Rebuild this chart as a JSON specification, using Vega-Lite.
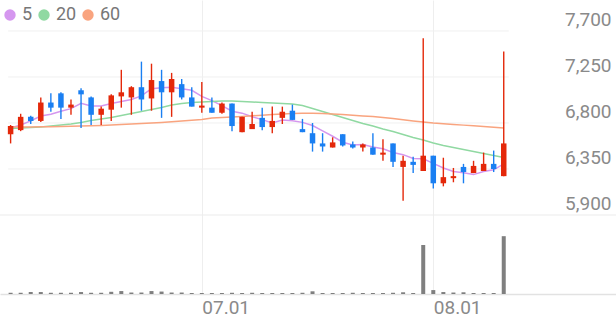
{
  "$schema": "https://vega.github.io/schema/vega-lite/v6.json",
  "width": 616,
  "height": 294,
  "autosize": {"type": "none"},
  "padding": {"left": 0, "top": 0, "right": 0, "bottom": 27},
  "background": "white",
  "config": {"view": {"stroke": null}, "font": "Roboto"},
  "data": {"values": [
    {"i":0,"date":"2024-06-03","o":6690,"h":6780,"l":6600,"c":6770,"v":25000,"ma5":6751,"ma20":6746,"ma60":6761},
    {"i":1,"date":"2024-06-04","o":6730,"h":6890,"l":6720,"c":6860,"v":25000,"ma5":6780,"ma20":6751,"ma60":6761},
    {"i":2,"date":"2024-06-05","o":6860,"h":6870,"l":6790,"c":6820,"v":40000,"ma5":6820,"ma20":6756,"ma60":6761},
    {"i":3,"date":"2024-06-07","o":6820,"h":7050,"l":6810,"c":7000,"v":40000,"ma5":6868,"ma20":6761,"ma60":6763},
    {"i":4,"date":"2024-06-10","o":7000,"h":7090,"l":6910,"c":6950,"v":25000,"ma5":6885,"ma20":6771,"ma60":6764},
    {"i":5,"date":"2024-06-11","o":7090,"h":7100,"l":6840,"c":6950,"v":25000,"ma5":6914,"ma20":6780,"ma60":6766},
    {"i":6,"date":"2024-06-12","o":6950,"h":7030,"l":6880,"c":6980,"v":25000,"ma5":6940,"ma20":6790,"ma60":6768},
    {"i":7,"date":"2024-06-13","o":7120,"h":7140,"l":6750,"c":7080,"v":40000,"ma5":6992,"ma20":6805,"ma60":6771},
    {"i":8,"date":"2024-06-14","o":7050,"h":7060,"l":6780,"c":6880,"v":25000,"ma5":6966,"ma20":6824,"ma60":6773},
    {"i":9,"date":"2024-06-17","o":6880,"h":6960,"l":6780,"c":6940,"v":25000,"ma5":6966,"ma20":6839,"ma60":6776},
    {"i":10,"date":"2024-06-18","o":6930,"h":7080,"l":6820,"c":7070,"v":45000,"ma5":6990,"ma20":6854,"ma60":6780},
    {"i":11,"date":"2024-06-19","o":7060,"h":7320,"l":6950,"c":7100,"v":60000,"ma5":7010,"ma20":6873,"ma60":6785},
    {"i":12,"date":"2024-06-20","o":7050,"h":7160,"l":6880,"c":7150,"v":30000,"ma5":7030,"ma20":6893,"ma60":6790},
    {"i":13,"date":"2024-06-21","o":7150,"h":7400,"l":6920,"c":7030,"v":30000,"ma5":7065,"ma20":6912,"ma60":6795},
    {"i":14,"date":"2024-06-24","o":7040,"h":7380,"l":6920,"c":7220,"v":60000,"ma5":7135,"ma20":6932,"ma60":6800},
    {"i":15,"date":"2024-06-25","o":7210,"h":7320,"l":6850,"c":7100,"v":50000,"ma5":7145,"ma20":6952,"ma60":6805},
    {"i":16,"date":"2024-06-26","o":7100,"h":7290,"l":6860,"c":7230,"v":30000,"ma5":7150,"ma20":6976,"ma60":6812},
    {"i":17,"date":"2024-06-27","o":7180,"h":7230,"l":7030,"c":7050,"v":30000,"ma5":7135,"ma20":6991,"ma60":6820},
    {"i":18,"date":"2024-06-28","o":7050,"h":7150,"l":6960,"c":6960,"v":20000,"ma5":7120,"ma20":7000,"ma60":6826},
    {"i":19,"date":"2024-07-01","o":6950,"h":7200,"l":6900,"c":6970,"v":20000,"ma5":7060,"ma20":7005,"ma60":6834},
    {"i":20,"date":"2024-07-02","o":6950,"h":7050,"l":6900,"c":6900,"v":20000,"ma5":7019,"ma20":7010,"ma60":6849},
    {"i":21,"date":"2024-07-03","o":6900,"h":7000,"l":6890,"c":6990,"v":20000,"ma5":6970,"ma20":7015,"ma60":6854},
    {"i":22,"date":"2024-07-04","o":6990,"h":6990,"l":6720,"c":6770,"v":25000,"ma5":6915,"ma20":7015,"ma60":6859},
    {"i":23,"date":"2024-07-05","o":6710,"h":6860,"l":6710,"c":6860,"v":20000,"ma5":6896,"ma20":7010,"ma60":6864},
    {"i":24,"date":"2024-07-08","o":6740,"h":6910,"l":6740,"c":6790,"v":25000,"ma5":6861,"ma20":7005,"ma60":6870},
    {"i":25,"date":"2024-07-09","o":6850,"h":6950,"l":6730,"c":6760,"v":20000,"ma5":6833,"ma20":7000,"ma60":6876},
    {"i":26,"date":"2024-07-10","o":6760,"h":6960,"l":6700,"c":6820,"v":20000,"ma5":6800,"ma20":6996,"ma60":6883},
    {"i":27,"date":"2024-07-11","o":6850,"h":6960,"l":6790,"c":6910,"v":20000,"ma5":6828,"ma20":6991,"ma60":6888},
    {"i":28,"date":"2024-07-12","o":6920,"h":6980,"l":6830,"c":6830,"v":20000,"ma5":6822,"ma20":6986,"ma60":6893},
    {"i":29,"date":"2024-07-15","o":6740,"h":6840,"l":6710,"c":6710,"v":25000,"ma5":6806,"ma20":6971,"ma60":6896},
    {"i":30,"date":"2024-07-16","o":6700,"h":6800,"l":6520,"c":6600,"v":55000,"ma5":6775,"ma20":6942,"ma60":6895},
    {"i":31,"date":"2024-07-17","o":6600,"h":6700,"l":6520,"c":6570,"v":20000,"ma5":6722,"ma20":6912,"ma60":6892},
    {"i":32,"date":"2024-07-18","o":6560,"h":6660,"l":6560,"c":6610,"v":20000,"ma5":6670,"ma20":6883,"ma60":6888},
    {"i":33,"date":"2024-07-19","o":6690,"h":6690,"l":6570,"c":6580,"v":20000,"ma5":6612,"ma20":6854,"ma60":6882},
    {"i":34,"date":"2024-07-22","o":6590,"h":6620,"l":6550,"c":6560,"v":25000,"ma5":6585,"ma20":6824,"ma60":6875},
    {"i":35,"date":"2024-07-23","o":6560,"h":6600,"l":6520,"c":6590,"v":20000,"ma5":6590,"ma20":6795,"ma60":6868},
    {"i":36,"date":"2024-07-24","o":6560,"h":6700,"l":6490,"c":6490,"v":20000,"ma5":6565,"ma20":6771,"ma60":6863},
    {"i":37,"date":"2024-07-25","o":6490,"h":6640,"l":6430,"c":6510,"v":20000,"ma5":6548,"ma20":6741,"ma60":6854},
    {"i":38,"date":"2024-07-26","o":6600,"h":6600,"l":6370,"c":6420,"v":25000,"ma5":6512,"ma20":6717,"ma60":6844},
    {"i":39,"date":"2024-07-29","o":6370,"h":6480,"l":6040,"c":6430,"v":35000,"ma5":6490,"ma20":6687,"ma60":6831},
    {"i":40,"date":"2024-07-30","o":6420,"h":6470,"l":6310,"c":6390,"v":20000,"ma5":6452,"ma20":6658,"ma60":6820},
    {"i":41,"date":"2024-07-31","o":6330,"h":7630,"l":6330,"c":6480,"v":1000000,"ma5":6450,"ma20":6634,"ma60":6810},
    {"i":42,"date":"2024-08-01","o":6480,"h":6480,"l":6160,"c":6210,"v":80000,"ma5":6405,"ma20":6604,"ma60":6800},
    {"i":43,"date":"2024-08-02","o":6210,"h":6460,"l":6180,"c":6270,"v":40000,"ma5":6360,"ma20":6580,"ma60":6793},
    {"i":44,"date":"2024-08-05","o":6260,"h":6360,"l":6220,"c":6280,"v":30000,"ma5":6325,"ma20":6560,"ma60":6786},
    {"i":45,"date":"2024-08-06","o":6370,"h":6400,"l":6210,"c":6320,"v":35000,"ma5":6313,"ma20":6541,"ma60":6779},
    {"i":46,"date":"2024-08-07","o":6310,"h":6430,"l":6310,"c":6380,"v":20000,"ma5":6295,"ma20":6521,"ma60":6773},
    {"i":47,"date":"2024-08-08","o":6330,"h":6510,"l":6330,"c":6400,"v":20000,"ma5":6325,"ma20":6502,"ma60":6766},
    {"i":48,"date":"2024-08-09","o":6400,"h":6530,"l":6320,"c":6350,"v":20000,"ma5":6342,"ma20":6482,"ma60":6759},
    {"i":49,"date":"2024-08-12","o":6280,"h":7500,"l":6280,"c":6600,"v":1180000,"ma5":6400,"ma20":6462,"ma60":6751}
  ]},
  "resolve": {"scale": {"y": "independent"}},
  "layer": [
    {
      "mark": {"type": "bar", "size": 4, "color": "#7f7f7f"},
      "encoding": {
        "x": {"field": "i", "type": "quantitative",
              "scale": {"domain": [-0.557, 59.658], "nice": false, "zero": false},
              "axis": {"values": [19, 42], "labelExpr": "datum.value == 19 ? '07.01' : '08.01'",
                       "grid": true, "gridColor": "#eeeeee", "gridWidth": 1,
                       "domain": true, "domainColor": "#e2e2e2", "domainWidth": 1.5,
                       "ticks": false, "tickSize": 0, "labelAlign": "left", "labelBaseline": "top",
                       "labelPadding": 4, "labelFontSize": 19, "labelFont": "Roboto",
                       "labelColor": "#8a8a8a", "labelOverlap": false, "labelFlush": false, "title": null}},
        "y": {"field": "v", "type": "quantitative", "scale": {"domain": [0, 6000000], "nice": false}, "axis": null}
      }
    },
    {
      "layer": [
        {
          "data": {"values": [{"g": 7700}, {"g": 7250}, {"g": 6800}, {"g": 6350}]},
          "mark": {"type": "rule", "color": "#f0f0f0", "strokeWidth": 1},
          "encoding": {
            "y": {"field": "g", "type": "quantitative",
                  "scale": {"domain": [5127, 8003], "nice": false, "zero": false},
                  "axis": {"orient": "right", "values": [5900, 6350, 6800, 7250, 7700], "format": ",d",
                           "grid": false, "domain": false, "ticks": false, "tickSize": 0,
                           "labelAlign": "right", "labelBaseline": "alphabetic", "labelOffset": -5.5,
                           "labelPadding": -5, "labelFontSize": 19, "labelFont": "Roboto",
                           "labelColor": "#8a8a8a", "labelOverlap": false, "labelFlush": false, "title": null}},
            "x": {"datum": -0.25, "type": "quantitative"},
            "x2": {"datum": 49.5}
          }
        },
        {
          "data": {"values": [{"g": 5900}]},
          "mark": {"type": "rule", "color": "#ececec", "strokeWidth": 1.2},
          "encoding": {
            "y": {"field": "g", "type": "quantitative"}
          }
        },
        {
          "transform": [{"fold": ["ma5", "ma20", "ma60"], "as": ["ma", "val"]}],
          "mark": {"type": "line", "strokeWidth": 1.5},
          "encoding": {
            "x": {"field": "i", "type": "quantitative"},
            "y": {"field": "val", "type": "quantitative"},
            "color": {"field": "ma", "type": "nominal",
                      "scale": {"domain": ["ma5", "ma20", "ma60"], "range": ["#d597ef", "#90d9a2", "#f9a47f"]},
                      "legend": {"orient": "none", "legendX": 1, "legendY": 6, "direction": "horizontal",
                                 "title": null, "symbolType": "circle", "symbolSize": 130, "symbolStrokeWidth": 0,
                                 "labelFontSize": 18, "labelFont": "Roboto", "labelColor": "#777777",
                                 "labelOffset": 3, "columnPadding": 2, "padding": 0,
                                 "labelExpr": "datum.label == 'ma5' ? '5' : datum.label == 'ma20' ? '20' : '60'",
                                 "encode": {"symbols": {"update": {"fill": {"scale": "color", "field": "value"}, "strokeWidth": {"value": 0}, "size": {"value": 130}}}}}}
          }
        },
        {
          "mark": {"type": "rule", "strokeWidth": 1.4},
          "encoding": {
            "x": {"field": "i", "type": "quantitative"},
            "y": {"field": "l", "type": "quantitative"},
            "y2": {"field": "h"},
            "color": {"condition": {"test": "datum.c >= datum.o", "value": "#e4280a"}, "value": "#1a7ff2"}
          }
        },
        {
          "mark": {"type": "bar", "size": 5.5},
          "encoding": {
            "x": {"field": "i", "type": "quantitative"},
            "y": {"field": "o", "type": "quantitative"},
            "y2": {"field": "c"},
            "color": {"condition": {"test": "datum.c >= datum.o", "value": "#e4280a"}, "value": "#1a7ff2"}
          }
        }
      ]
    }
  ]
}
